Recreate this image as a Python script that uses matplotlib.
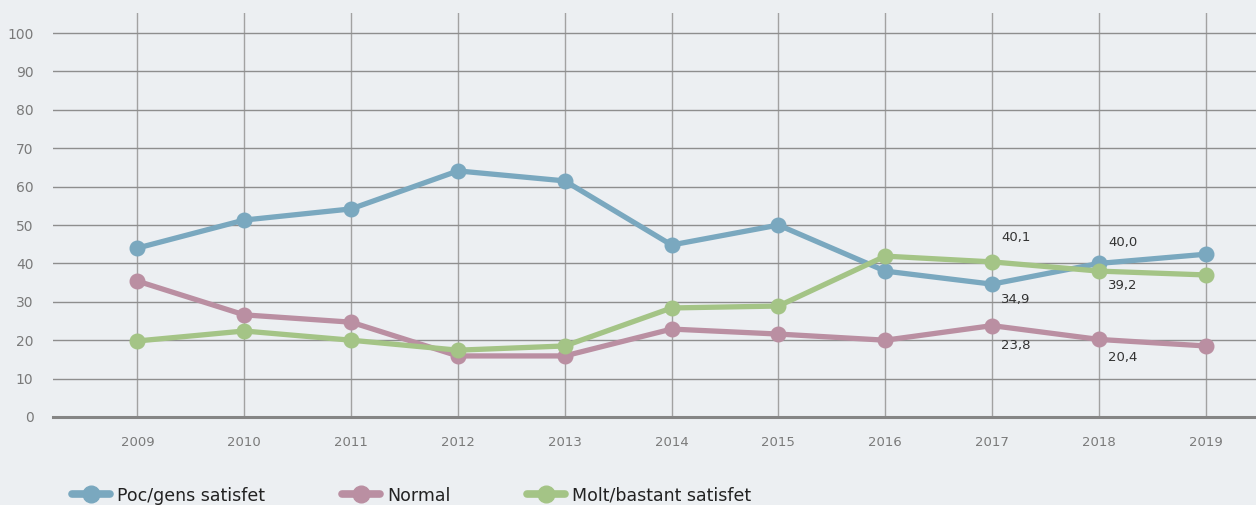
import matplotlib.pyplot as plt

years = [2009, 2010, 2011, 2012, 2013, 2014, 2015, 2016, 2017, 2018, 2019]
poc_gens = [44.0, 51.3, 54.2, 64.1, 61.5, 44.8, 50.0, 38.0, 34.6, 40.0, 42.4]
normal = [35.4, 26.6, 24.7, 15.9, 15.9, 22.9, 21.6, 20.0, 23.8, 20.2, 18.5]
molt_bastant = [19.8, 22.4, 20.0, 17.4, 18.5, 28.4, 28.9, 41.9, 40.4, 38.0, 37.0]
series_names = ["Poc/gens satisfet", "Normal", "Molt/bastant satisfet"]

# labelled points: (series index, year, text, pixel offset)
labels = [
    (2, 2017, "40,1", (9, 24)),
    (0, 2017, "34,9", (9, -15)),
    (1, 2017, "23,8", (9, -20)),
    (0, 2018, "40,0", (9, 21)),
    (2, 2018, "39,2", (9, -14)),
    (1, 2018, "20,4", (9, -18)),
]

bg = "#eceff2"
colors = ["#7aa8bf", "#ba8fa2", "#a4c486"]
plt.rcParams["font.family"] = ["DejaVu Sans"]

fig = plt.figure(figsize=(12.56, 5.05), dpi=100, facecolor=bg)
ax = fig.add_axes([0.0422, 0.1743, 0.9578, 0.7997])
ax.set_facecolor(bg)

all_series = [poc_gens, normal, molt_bastant]
for vals, name, c in zip(all_series, series_names, colors):
    ax.plot(years, vals, color=c, lw=3.8, marker="o", ms=10.5, label=name,
            solid_capstyle="round", zorder=3, clip_on=False)

for si, yr, txt, (dx, dy) in labels:
    v = all_series[si][years.index(yr)]
    ax.annotate(txt, (yr, v), xytext=(dx, dy), textcoords="offset pixels",
                ha="left", va="center", fontsize=9.5, color="#333333")

ax.set_xlim(2008.21, 2019.47)
ax.set_ylim(0, 105.2)
ax.set_yticks(range(0, 101, 10))
ax.set_xticks(years)
ax.grid(axis="y", color="#8e8e8e", lw=1.0)
for yr in years:
    ax.axvline(yr, color="#a2a2a2", lw=1.0, zorder=1)
for s in ax.spines.values():
    s.set_visible(False)
ax.axhline(0, color="#858585", lw=2.2, zorder=2, clip_on=False)
ax.tick_params(length=0, colors="#7a7a7a", labelsize=10)
ax.tick_params(axis="y", pad=14)
ax.tick_params(axis="x", pad=14, labelsize=9.5)

leg = fig.legend(loc="lower left", bbox_to_anchor=(0.045, -0.03), ncol=3,
                 frameon=False, fontsize=12.5, handlelength=2.2,
                 columnspacing=4.4, handletextpad=0.4)
for line in leg.get_lines():
    line.set_linewidth(5.5)
    line.set_markersize(12)
for t in leg.get_texts():
    t.set_color("#222222")

fig.savefig("out.png", dpi=100, facecolor=bg)
